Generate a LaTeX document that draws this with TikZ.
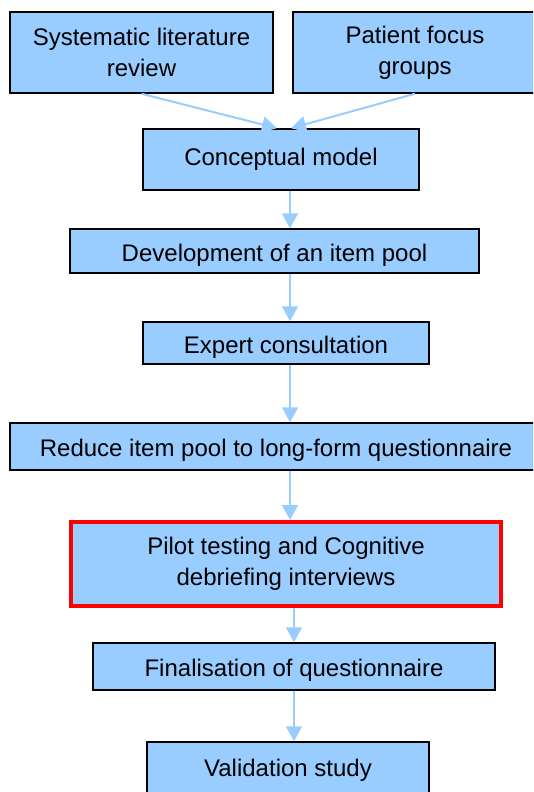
\documentclass[tikz,border=0pt]{standalone}
\usepackage{fontspec}
\setmainfont{Liberation Sans}
\usetikzlibrary{arrows.meta}
\definecolor{boxblue}{HTML}{99CCFF}

\begin{document}
\begin{tikzpicture}[x=1pt, y=-1pt,
    stage/.style={draw=black, line width=1.5pt, fill=boxblue, align=center,
        inner sep=0pt, font=\fontsize{24}{31}\selectfont},
    lowtext/.style={text height=20pt, text depth=0pt},
    flow/.style={draw=boxblue, line width=2pt, -{Triangle[width=16pt,length=15pt]}}]
    % Page size
    \useasboundingbox (0,0) rectangle (533,792);
    \clip (0,0) rectangle (533,792);

    % Draw boxes
    \node[stage, minimum width=263pt, minimum height=81pt] (review) at (141.5,52.5) {Systematic literature\\review};
    \node[stage, minimum width=244pt, minimum height=81pt] (focus) at (415,52.5) {Patient focus\\groups};
    \node[stage, minimum width=276pt, minimum height=61pt] (concept) at (281,159.5) {Conceptual model};
    \node[stage, lowtext, minimum width=409pt, minimum height=44pt] (pool) at (274.5,251) {Development of an item pool};
    \node[stage, lowtext, minimum width=286pt, minimum height=42pt] (expert) at (286,343) {Expert consultation};
    \node[stage, lowtext, minimum width=532pt, minimum height=47pt] (reduce) at (276,446.5) {Reduce item pool to long-form questionnaire};
    \node[stage, draw=red, line width=4pt, minimum width=430pt, minimum height=84pt] (pilot) at (286,564) {Pilot testing and Cognitive\\debriefing interviews};
    \node[stage, lowtext, minimum width=402pt, minimum height=47pt] (final) at (294,666.5) {Finalisation of questionnaire};
    \node[stage, minimum width=282pt, minimum height=56pt] (valid) at (288,770) {Validation study};

    \coordinate (spine) at (290,0);
    \coordinate (spinelow) at (294,0);

    % Draw arrows
    \draw[flow] (review.south) -- ([xshift=-4pt]concept.north);
    \draw[flow] (focus.south) -- ([xshift=10pt]concept.north);
    \draw[flow] (concept.south -| spine) -- (pool.north -| spine);
    \draw[flow] (pool.south -| spine) -- (expert.north -| spine);
    \draw[flow] (expert.south -| spine) -- (reduce.north -| spine);
    \draw[flow] (reduce.south -| spine) -- (pilot.north -| spine);
    \draw[flow] (pilot.south -| spinelow) -- (final.north -| spinelow);
    \draw[flow] (final.south -| spinelow) -- (valid.north -| spinelow);
\end{tikzpicture}
\end{document}
